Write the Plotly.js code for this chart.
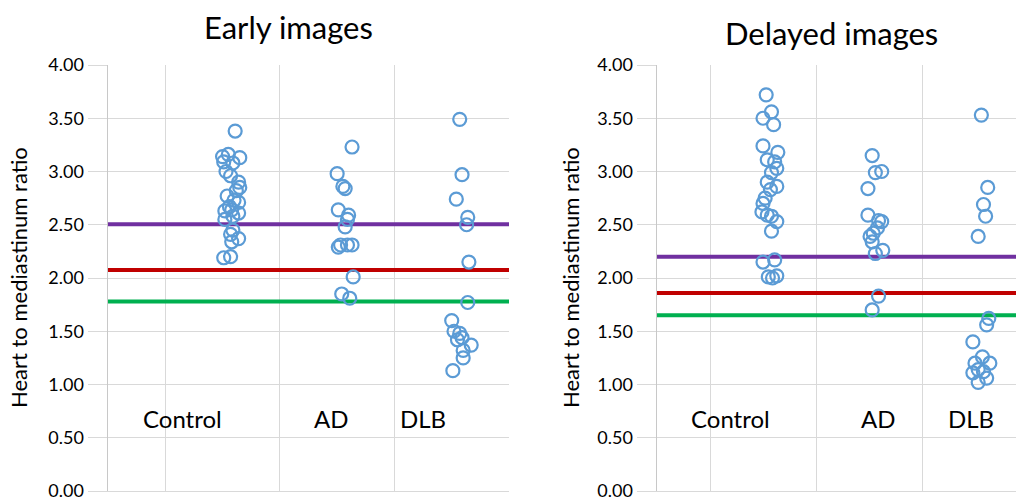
<!DOCTYPE html>
<html><head><meta charset="utf-8">
<script src="https://cdn.plot.ly/plotly-3.0.1.min.js"></script>
<style>html,body{margin:0;padding:0;overflow:hidden;background:#fff}</style>
</head><body>
<div id="chart" style="width:1016px;height:500px"></div>
<script>
// Panel titles and group labels
const panelTitles = ["Early images", "Delayed images"];
const groupLabels = ["Control", "AD", "DLB"];
const yTitle = "Heart to mediastinum ratio";

// Early images: jittered x positions and H/M ratio values
const earlyControlX = [1.61,1.50,1.65,1.55,1.51,1.59,1.53,1.57,1.64,1.65,1.62,1.54,1.60,1.64,1.56,1.58,1.52,1.64,1.59,1.52,1.59,1.57,1.64,1.58,1.51,1.57];
const earlyControlY = [3.38,3.14,3.13,3.16,3.09,3.08,3.00,2.96,2.90,2.85,2.82,2.77,2.73,2.71,2.67,2.64,2.63,2.61,2.58,2.55,2.45,2.41,2.37,2.34,2.19,2.20];
const earlyADX = [2.63,2.50,2.55,2.57,2.51,2.60,2.59,2.57,2.53,2.51,2.59,2.63,2.64,2.54,2.61];
const earlyADY = [3.23,2.98,2.86,2.84,2.64,2.59,2.55,2.48,2.31,2.29,2.31,2.31,2.01,1.85,1.81];
const earlyDLBX = [3.57,3.59,3.54,3.64,3.63,3.65,3.64,3.50,3.52,3.57,3.55,3.59,3.67,3.60,3.60,3.51];
const earlyDLBY = [3.49,2.97,2.74,2.57,2.50,2.15,1.77,1.60,1.50,1.48,1.42,1.44,1.37,1.32,1.25,1.13];
const earlyCutoffs = [2.505, 2.075, 1.78]; // purple, red, green

// Delayed images
const delayedControlX = [1.53,1.50,1.58,1.60,1.50,1.64,1.54,1.61,1.63,1.58,1.54,1.63,1.57,1.52,1.50,1.49,1.54,1.58,1.63,1.58,1.50,1.61,1.55,1.59,1.63];
const delayedControlY = [3.72,3.50,3.56,3.44,3.24,3.18,3.11,3.09,3.03,2.99,2.90,2.86,2.83,2.75,2.70,2.62,2.59,2.58,2.53,2.44,2.15,2.17,2.01,2.00,2.02];
const delayedADX = [2.53,2.56,2.62,2.49,2.49,2.59,2.62,2.58,2.54,2.51,2.53,2.63,2.56,2.59,2.53];
const delayedADY = [3.15,2.99,3.00,2.84,2.59,2.54,2.53,2.47,2.42,2.39,2.34,2.26,2.23,1.83,1.70];
const delayedDLBX = [3.56,3.62,3.58,3.60,3.53,3.63,3.61,3.48,3.57,3.64,3.50,3.53,3.58,3.48,3.61,3.53];
const delayedDLBY = [3.53,2.85,2.69,2.58,2.39,1.62,1.56,1.40,1.26,1.20,1.20,1.14,1.12,1.11,1.06,1.02];
const delayedCutoffs = [2.20, 1.86, 1.65];

const cutoffColors = ["#7030A0", "#C00000", "#00B050"];
const markerColor = "#5B9BD5";
const font = "Lato, 'Open Sans', sans-serif";

const traces = [];
function addPanel(xa, ya, xmax, cutoffs, groups) {
  cutoffs.forEach((v, i) => traces.push({
    type: "scatter", mode: "lines", xaxis: xa, yaxis: ya,
    x: [0.5, xmax], y: [v, v], hoverinfo: "skip",
    line: {color: cutoffColors[i], width: 4}
  }));
  groups.forEach(g => traces.push({
    type: "scatter", mode: "markers", xaxis: xa, yaxis: ya,
    x: g[0], y: g[1],
    marker: {symbol: "circle-open", size: 13, color: markerColor, line: {width: 2.2, color: markerColor}}
  }));
}
const rightMax = 0.5 + (1016 - 657) / 106;
addPanel("x", "y", 4, earlyCutoffs, [[earlyControlX, earlyControlY], [earlyADX, earlyADY], [earlyDLBX, earlyDLBY]]);
addPanel("x2", "y2", rightMax, delayedCutoffs, [[delayedControlX, delayedControlY], [delayedADX, delayedADY], [delayedDLBX, delayedDLBY]]);

const grid = "#d9d9d9";
function xAxis(dom, rng) {
  return {domain: dom, range: rng, tickvals: [1,2,3,4], showticklabels: false, ticks: "",
    showgrid: true, gridcolor: grid, gridwidth: 1, zeroline: false,
    showline: true, linecolor: grid, linewidth: 1, fixedrange: true};
}
function yAxis(anchor) {
  return {anchor: anchor, domain: [1 - 491/500, 1 - 65/500], range: [0, 4], dtick: 0.5, tick0: 0,
    tickformat: ".2f", showgrid: true, gridcolor: grid, zeroline: false,
    showline: true, linecolor: "#c8c8c8", linewidth: 1.5,
    ticks: "outside", ticklen: 19, tickcolor: grid, tickwidth: 1,
    ticklabeloverflow: "allow",
    tickfont: {family: font, size: 18, color: "#000"}, fixedrange: true};
}

const labelY = 0.685;
const annotations = [
  {text: panelTitles[0], xref: "paper", yref: "paper", x: 288/1016, y: 1 - 27/500, showarrow: false, xanchor: "center", yanchor: "middle", font: {family: font, size: 31, color: "#000"}},
  {text: panelTitles[1], xref: "paper", yref: "paper", x: 831/1016, y: 1 - 33/500, showarrow: false, xanchor: "center", yanchor: "middle", font: {family: font, size: 31, color: "#000"}},
  {text: yTitle, xref: "paper", yref: "paper", x: 18/1016, y: 1 - 278/500, textangle: -90, showarrow: false, xanchor: "center", yanchor: "middle", font: {family: font, size: 22, color: "#000"}},
  {text: yTitle, xref: "paper", yref: "paper", x: 570/1016, y: 1 - 278/500, textangle: -90, showarrow: false, xanchor: "center", yanchor: "middle", font: {family: font, size: 22, color: "#000"}},
];
const leftLabelX = [1.146, 2.448, 3.25];
const rightLabelX = [1.19, 2.59, 3.46];
groupLabels.forEach((t, i) => {
  annotations.push({text: t, xref: "x", yref: "y", x: leftLabelX[i], y: labelY, showarrow: false, font: {family: font, size: 24, color: "#000"}});
  annotations.push({text: t, xref: "x2", yref: "y2", x: rightLabelX[i], y: labelY, showarrow: false, font: {family: font, size: 24, color: "#000"}});
});

const layout = {
  width: 1016, height: 500, margin: {l: 0, r: 0, t: 0, b: 0},
  paper_bgcolor: "#fff", plot_bgcolor: "#fff", showlegend: false,
  xaxis: xAxis([108/1016, 509/1016], [0.5, 4]),
  yaxis: yAxis("x"),
  xaxis2: xAxis([657/1016, 1], [0.5, rightMax]),
  yaxis2: yAxis("x2"),
  annotations: annotations,
  font: {family: font}
};
Plotly.newPlot("chart", traces, layout, {staticPlot: true, displayModeBar: false});
</script>
</body></html>
